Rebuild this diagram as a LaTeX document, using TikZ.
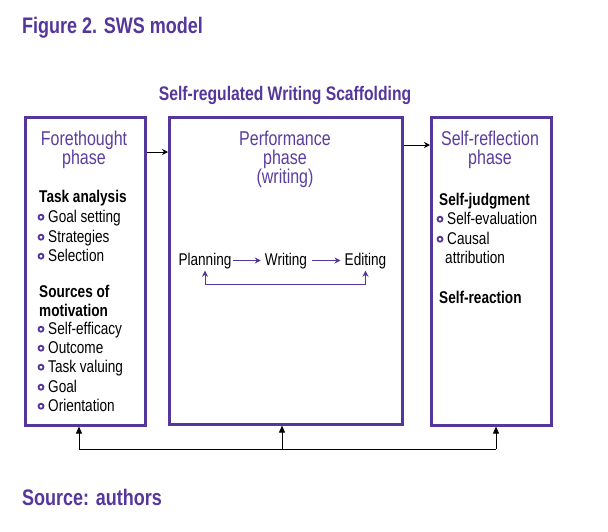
\documentclass[tikz,border=0pt]{standalone}
\usepackage{fontspec}
\setmainfont{Liberation Sans}[FakeStretch=0.8]
\usetikzlibrary{arrows.meta,calc}
\definecolor{purp}{HTML}{55369A}
\definecolor{purptext}{HTML}{5B3E9E}
\tikzset{
  box/.style={draw=purp,line width=2.6pt,fill=white},
  body/.style={inner sep=0pt,font=\fontsize{17}{20}\selectfont,text=black},
  bodyb/.style={inner sep=0pt,font=\fontsize{17}{20}\selectfont\bfseries,text=black},
  head/.style={inner sep=0pt,font=\fontsize{20}{23}\selectfont,text=purptext,anchor=base},
  title/.style={inner sep=0pt,font=\fontsize{22.5}{26}\selectfont\bfseries,text=purp,anchor=base west},
  bul/.style={draw=purp,line width=1.8pt},
  blackarrow/.style={draw=black,line width=0.8pt,-{Stealth[length=6pt,width=6pt]}},
  uparrow/.style={draw=black,line width=0.8pt,-{Triangle[length=7pt,width=6pt]}},
  purparrow/.style={draw=purp,line width=0.9pt,-{Stealth[length=6pt,width=6pt]}},
}
\newcommand\blt[4]{\node[body,anchor=base west] (#1) at (#2,#3) {#4};
  \draw[bul] ([xshift=-7pt,yshift=4.8pt]#1.base west) circle (2.5pt);}
\begin{document}
\begin{tikzpicture}[x=1pt,y=-1pt]
\useasboundingbox (0,0) rectangle (608,531);
% titles
\node[title] (fig) at (22,33) {Figure 2. SWS model};
\node[inner sep=0pt,font=\fontsize{19.6}{23}\selectfont\bfseries,text=purp,anchor=base] (srws) at (285,100) {Self-regulated Writing Scaffolding};
\node[title] (src) at (22,505) {Source: authors};
% boxes
\node[box,minimum width=120pt,minimum height=308pt,anchor=north west,inner sep=0pt] (fore) at (24,116) {};
\node[box,minimum width=233pt,minimum height=307pt,anchor=north west,inner sep=0pt] (perf) at (168,116) {};
\node[box,minimum width=120pt,minimum height=308pt,anchor=north west,inner sep=0pt] (refl) at (430,116) {};
% Forethought
\node[head] (f1) at (84,145) {Forethought};
\node[head] (f2) at (84,164) {phase};
\node[bodyb,anchor=base west] (ta) at (39,202) {Task analysis};
\blt{gs}{48}{222}{Goal setting}
\blt{st}{48}{242}{Strategies}
\blt{se}{48}{261}{Selection}
\node[bodyb,anchor=base west] (so1) at (39,297) {Sources of};
\node[bodyb,anchor=base west] (so2) at (39,316) {motivation};
\blt{sef}{48}{334}{Self-efficacy}
\blt{oc}{48}{353}{Outcome}
\blt{tv}{48}{372}{Task valuing}
\blt{go}{48}{392}{Goal}
\blt{or}{48}{411}{Orientation}
% Performance
\node[head] (p1) at (285,145) {Performance};
\node[head] (p2) at (285,164) {phase};
\node[head] (p3) at (285,183) {(writing)};
\node[body,anchor=base] (plan) at (205,265) {Planning};
\node[body,anchor=base] (writ) at (286,265) {Writing};
\node[body,anchor=base] (edit) at (365.5,265) {Editing};
\draw[purparrow] ([xshift=1pt,yshift=4.5pt]plan.base east) -- ([xshift=-4pt,yshift=4.5pt]writ.base west);
\draw[purparrow] ([xshift=5pt,yshift=4.5pt]writ.base east) -- ([xshift=-4pt,yshift=4.5pt]edit.base west);
\draw[draw=purp,line width=0.9pt,{Stealth[length=6pt,width=6pt]}-{Stealth[length=6pt,width=6pt]}]
  ([yshift=-2pt]plan.south) -- ++(0,14) -| ([yshift=-2pt]edit.south);
% Self-reflection
\node[head] (r1) at (490,145) {Self-reflection};
\node[head] (r2) at (490,164) {phase};
\node[bodyb,anchor=base west] (sj) at (439,205) {Self-judgment};
\blt{sev}{447}{224}{Self-evaluation}
\blt{ca}{447}{244}{Causal}
\node[body,anchor=base west] (at) at (445,263) {attribution};
\node[bodyb,anchor=base west] (sr) at (439,303) {Self-reaction};
% top arrows
\draw[blackarrow] (fore.east |- 0,152) -- (perf.west |- 0,152);
\draw[blackarrow] (perf.east |- 0,145) -- (refl.west |- 0,145);
% bottom feedback
\coordinate (bl) at (79,449);
\coordinate (bm) at (282,449);
\coordinate (br) at (496,449);
\draw[line width=0.8pt] (bl) -- (br);
\draw[uparrow] (bl) -- (bl |- fore.south);
\draw[uparrow] (bm) -- (bm |- perf.south);
\draw[uparrow] (br) -- (br |- refl.south);
\end{tikzpicture}
\end{document}
